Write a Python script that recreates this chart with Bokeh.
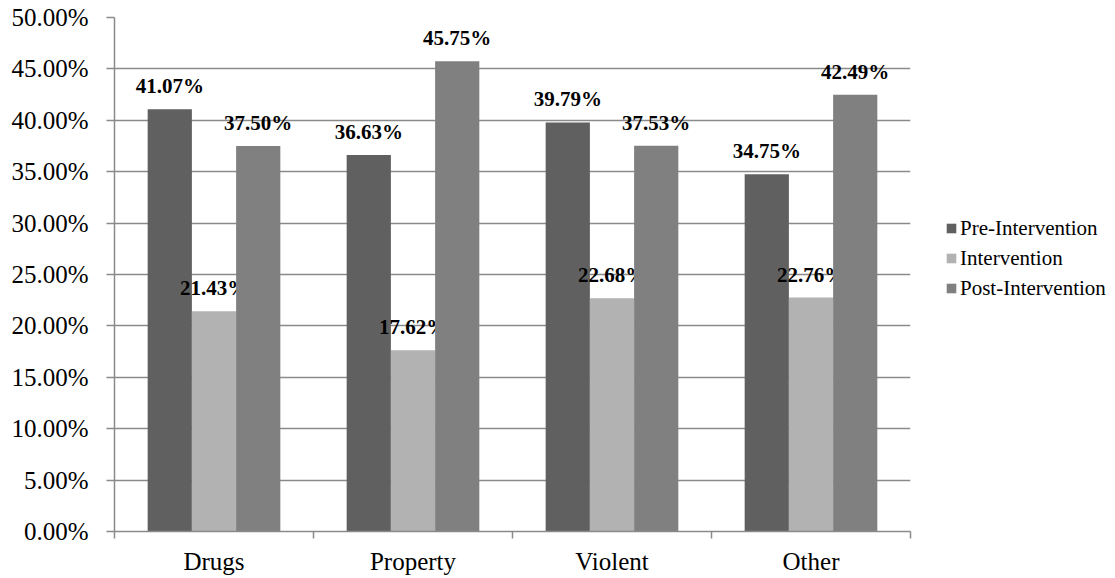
import numpy as np
from bokeh.plotting import figure
from bokeh.models import (ColumnDataSource, Range1d, FixedTicker, NumeralTickFormatter,
                          Legend, LegendItem)
from bokeh.core.properties import value
from bokeh.embed import file_html
from bokeh.resources import INLINE

categories = ["Drugs", "Property", "Violent", "Other"]
series_names = ["Pre-Intervention", "Intervention", "Post-Intervention"]
pre_intervention = [0.4107, 0.3663, 0.3979, 0.3475]
intervention = [0.2143, 0.1762, 0.2268, 0.2276]
post_intervention = [0.3750, 0.4575, 0.3753, 0.4249]
y_ticks = [0.0, 0.05, 0.10, 0.15, 0.20, 0.25, 0.30, 0.35, 0.40, 0.45, 0.50]

colors = ["#606060", "#b2b2b2", "#808080"]
FONT = "Liberation Serif"
bar_w = 1.0 / 4.5
offsets = [-bar_w, 0.0, bar_w]

p = figure(frame_width=796, frame_height=514, output_backend="svg", toolbar_location=None,
           x_range=Range1d(0, len(categories)), y_range=Range1d(0, 0.5),
           min_border_left=114, min_border_right=0, min_border_top=17,
           min_border_bottom=40)
p.outline_line_color = None
p.background_fill_color = "white"
p.border_fill_color = "white"

centers = np.arange(len(categories)) + 0.5
renderers = []
for vals, col, off in zip([pre_intervention, intervention, post_intervention], colors, offsets):
    src = ColumnDataSource(dict(x=centers + off, top=vals,
                                lbl=["%.2f%%" % (v * 100) for v in vals]))
    r = p.vbar(x="x", top="top", width=bar_w, bottom=0, source=src,
               fill_color=col, line_color=None)
    renderers.append(r)
    p.text(x="x", y="top", text="lbl", source=src, text_align="center",
           text_baseline="middle", y_offset=-23, text_font=value(FONT),
           text_font_style="bold", text_font_size="21px", text_color="black")

# axes
grid_col = "#8a8a8a"
p.xgrid.grid_line_color = None
p.ygrid.grid_line_color = grid_col
p.ygrid.grid_line_width = 1.5
p.ygrid.ticker = FixedTicker(ticks=y_ticks)

p.yaxis.ticker = FixedTicker(ticks=y_ticks)
p.yaxis.formatter = NumeralTickFormatter(format="0.00%")
p.yaxis.major_tick_out = 8
p.yaxis.major_tick_in = 0
p.yaxis.minor_tick_line_color = None
p.yaxis.major_label_standoff = 18
p.yaxis.axis_line_color = grid_col
p.yaxis.axis_line_width = 1.5
p.yaxis.major_tick_line_color = grid_col
p.yaxis.major_tick_line_width = 1.5
p.yaxis.major_label_text_font = FONT
p.yaxis.major_label_text_font_size = "25px"
p.yaxis.major_label_text_color = "black"

p.xaxis.ticker = FixedTicker(ticks=list(centers), minor_ticks=list(range(len(categories) + 1)))
p.xaxis.major_label_overrides = {float(c): n for c, n in zip(centers, categories)}
p.xaxis.major_tick_line_color = None
p.xaxis.major_tick_out = 0
p.xaxis.major_tick_in = 0
p.xaxis.minor_tick_out = 7
p.xaxis.minor_tick_in = 0
p.xaxis.minor_tick_line_color = grid_col
p.xaxis.minor_tick_line_width = 1.5
p.xaxis.axis_line_color = grid_col
p.xaxis.axis_line_width = 1.5
p.xaxis.major_label_standoff = 9
p.xaxis.major_label_text_font = FONT
p.xaxis.major_label_text_font_size = "25px"
p.xaxis.major_label_text_color = "black"

legend = Legend(items=[LegendItem(label=n, renderers=[r]) for n, r in zip(series_names, renderers)],
                location=(35, 228), orientation="vertical")
legend.border_line_color = None
legend.background_fill_alpha = 0
legend.padding = 0
legend.margin = 0
legend.spacing = 0
legend.glyph_width = 12
legend.glyph_height = 12
legend.label_height = 30
legend.label_standoff = 3
legend.label_text_font = FONT
legend.label_text_font_size = "21px"
legend.label_text_color = "black"
p.add_layout(legend, "right")

open("out.html", "w").write(file_html(p, INLINE))
